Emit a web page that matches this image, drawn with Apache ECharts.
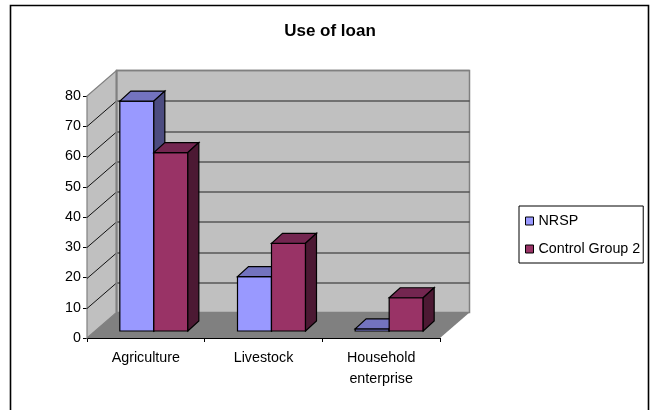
<!DOCTYPE html>
<html><head><meta charset="utf-8">
<style>html,body{margin:0;padding:0;background:#fff}#c{width:652px;height:410px}</style>
<script src="https://cdn.jsdelivr.net/npm/echarts@6/dist/echarts.min.js"></script>
</head><body><div id="c"></div>
<script>
const categories = ['Agriculture', 'Livestock', 'Household\nenterprise'];
const nrsp = [76, 18, 0.7];
const control = [59, 29, 11];
const ticks = [0, 10, 20, 30, 40, 50, 60, 70, 80];

const DX = 29.5, DY = -25.5;       // full floor depth
const BX = 8, BY = -7;             // bar front inset into the floor
const DEPTH_X = 11, DEPTH_Y = -10; // bar depth
const BAR_W = 34;

function poly(points, fill, stroke, lw, z2) {
  return { type: 'polygon', shape: { points }, z2: z2 || 0,
    style: { fill, stroke: stroke || null, lineWidth: lw === undefined ? 1 : lw, lineJoin: 'miter' } };
}
function line(x1, y1, x2, y2, color, lw, z2) {
  return { type: 'line', shape: { x1, y1, x2, y2 }, z2: z2 || 0,
    style: { stroke: color, lineWidth: lw, fill: null } };
}

function renderWalls(params, api) {
  if (params.dataIndex !== 0) return null;
  const cs = params.coordSys;
  const x0 = cs.x, x1 = cs.x + cs.width;
  const y0 = api.coord([0, 0])[1], yT = api.coord([0, 80])[1];
  const kids = [
    poly([[x0 + DX, yT + DY], [x1 + DX, yT + DY], [x1 + DX, y0 + DY], [x0 + DX, y0 + DY]], '#C0C0C0', '#808080', 1.5),
    poly([[x0, y0], [x0 + DX, y0 + DY], [x0 + DX, yT + DY], [x0, yT]], '#C0C0C0', '#808080', 1.2),
    poly([[x0, y0], [x1, y0], [x1 + DX, y0 + DY], [x0 + DX, y0 + DY]], '#808080', null)
  ];
  ticks.forEach(t => {
    if (t === 0 || t === 80) return;
    const y = Math.round(api.coord([0, t])[1]) + 0.5;
    kids.push(line(x0, y, x0 + DX, y + DY, '#111', 1, 2));
    kids.push(line(x0 + DX, y + DY, x1 + DX, y + DY, '#222', 1, 2));
  });
  kids.push(line(x0 + DX, yT + DY, x1 + DX, yT + DY, '#808080', 1.5, 3));
  kids.push(line(x0 + DX, y0 + DY, x0 + DX, yT + DY, '#808080', 2, 3));
  return { type: 'group', children: kids };
}

function barRenderer(offsetSign, front, top, side) {
  return function (params, api) {
    const cat = api.value(0), v = api.value(1);
    const p = api.coord([cat, v]), b = api.coord([cat, 0]);
    const l = p[0] + BX + (offsetSign < 0 ? -BAR_W : 0);
    const r = l + BAR_W;
    const yt = p[1] + BY, yb = b[1] + BY;
    const k = '#000';
    return { type: 'group', children: [
      poly([[l, yb], [r, yb], [r, yt], [l, yt]], front, k, 1.2),
      poly([[l, yt], [r, yt], [r + DEPTH_X, yt + DEPTH_Y], [l + DEPTH_X, yt + DEPTH_Y]], top, k, 1.2),
      poly([[r, yb], [r + DEPTH_X, yb + DEPTH_Y], [r + DEPTH_X, yt + DEPTH_Y], [r, yt]], side, k, 1.2)
    ] };
  };
}

const chart = echarts.init(document.getElementById('c'), null, { renderer: 'canvas' });
chart.setOption({
  animation: false,
  backgroundColor: '#fff',
  textStyle: { fontFamily: 'Liberation Sans' },
  title: { text: 'Use of loan', left: 325, top: 18, textAlign: 'center',
    textStyle: { fontFamily: 'Liberation Sans', fontSize: 17, fontWeight: 'bold', color: '#000' } },
  grid: { left: 87, top: 96, width: 353, height: 242 },
  legend: { orient: 'vertical', left: 519, top: 206, padding: [7, 3, 6, 6], itemGap: 12,
    itemWidth: 8, itemHeight: 8, borderColor: '#000', borderWidth: 1, backgroundColor: '#fff', icon: 'rect',
    textStyle: { fontFamily: 'Liberation Sans', fontSize: 14.3, color: '#000', lineHeight: 16 },
    data: [{ name: 'NRSP', itemStyle: { color: '#9999FF', borderColor: '#000', borderWidth: 1 } },
           { name: 'Control Group 2', itemStyle: { color: '#993366', borderColor: '#000', borderWidth: 1 } }] },
  xAxis: { type: 'category', data: categories, boundaryGap: true,
    axisLine: { lineStyle: { color: '#000', width: 1 } },
    axisTick: { show: true, alignWithLabel: false, length: 4, lineStyle: { color: '#000' } },
    axisLabel: { color: '#000', fontSize: 14.3, margin: 10, lineHeight: 21, interval: 0 } },
  yAxis: { type: 'value', min: 0, max: 80, interval: 10,
    axisLine: { show: true, lineStyle: { color: '#000', width: 1 } },
    axisTick: { show: true, length: 4, lineStyle: { color: '#000' } },
    splitLine: { show: false },
    axisLabel: { color: '#000', fontSize: 14.3, margin: 6 } },
  graphic: [
    { type: 'polyline', silent: true, z: 0, shape: { points: [[10.5, 410], [10.5, 5.5], [648.5, 5.5], [648.5, 410]] },
      style: { stroke: '#000', lineWidth: 1.6, fill: null } }
  ],
  series: [
    { type: 'custom', name: '__walls', coordinateSystem: 'cartesian2d', z: 1, silent: true,
      data: [[0, 0]], encode: { x: 0, y: 1 }, renderItem: renderWalls, clip: false },
    { type: 'custom', name: 'NRSP', coordinateSystem: 'cartesian2d', z: 2, clip: false,
      data: nrsp.map((v, i) => [i, v]), encode: { x: 0, y: 1 },
      itemStyle: { color: '#9999FF' },
      renderItem: barRenderer(-1, '#9999FF', '#7373BF', '#4C4C80') },
    { type: 'custom', name: 'Control Group 2', coordinateSystem: 'cartesian2d', z: 3, clip: false,
      data: control.map((v, i) => [i, v]), encode: { x: 0, y: 1 },
      itemStyle: { color: '#993366' },
      renderItem: barRenderer(1, '#993366', '#732650', '#4C1933') }
  ]
});
</script></body></html>
